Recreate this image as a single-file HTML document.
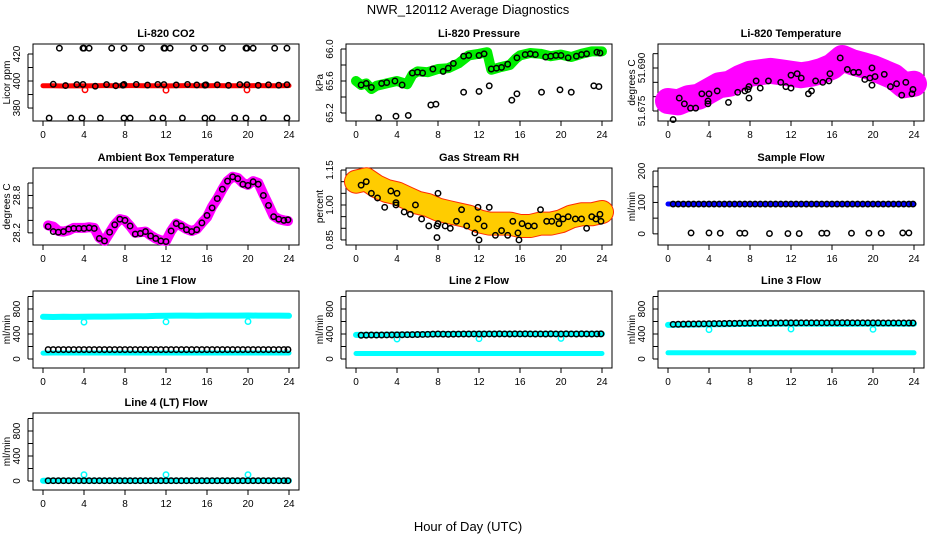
<!DOCTYPE html>
<html><head><meta charset="utf-8"><style>
html,body{margin:0;padding:0;background:#fff;}
svg{display:block;font-family:"Liberation Sans",Arial,sans-serif;}
</style></head><body>
<svg id="chart" width="936" height="540" viewBox="0 0 936 540" xmlns="http://www.w3.org/2000/svg">
<text x="468" y="14" text-anchor="middle" font-size="13">NWR_120112  Average Diagnostics</text>
<text x="468" y="531" text-anchor="middle" font-size="13">Hour of Day (UTC)</text>
</svg>
<script>
// ---------- DATA ----------
const halfHours = [0.5,1,1.5,2,2.5,3,3.5,4,4.5,5,5.5,6,6.5,7,7.5,8,8.5,9,9.5,10,10.5,11,11.5,12,12.5,13,13.5,14,14.5,15,15.5,16,16.5,17,17.5,18,18.5,19,19.5,20,20.5,21,21.5,22,22.5,23,23.5,23.9];
const bandHours = [0,1,2,3,4,5,6,7,8,9,10,11,12,13,14,15,16,17,18,19,20,21,22,23,24];

// CO2
const co2Band = [396.5,396.5,396.3,396.5,396.4,396.5,396.6,396.5,396.5,396.6,396.5,396.5,396.4,396.5,396.6,396.5,396.5,396.6,396.5,396.5,396.5,396.6,396.5,396.5,396.6];
const co2Hours = [1.0,2.2,3.3,3.9,5.1,6.2,7.1,7.8,7.9,9.1,10.2,11.2,11.8,13.0,14.1,15.0,15.8,15.9,17.0,18.1,19.2,19.9,21.0,22.0,23.0,23.8];
const co2Vals = [397.6,396.6,397.4,397.5,396.2,397.4,396.5,396.9,397.5,397.5,397.0,397.5,397.4,397.1,397.5,397.1,396.9,397.2,397.2,396.8,397.4,397.3,396.8,397.2,396.9,397.3];
const co2HighHours = [1.6,3.9,4.0,4.5,6.7,7.9,9.6,11.8,11.9,12.4,14.7,15.8,17.5,19.8,19.9,20.5,22.6,23.8];
const co2High = 424.3;
const co2LowHours = [0.6,2.7,3.8,5.6,7.9,8.5,10.7,11.7,13.6,15.8,16.5,18.7,19.8,21.5,23.8];
const co2Low = 372.6;
const co2RedOutHours = [4.1,12.0,19.9];
const co2RedOut = [393.5,393.2,393.4];

// Pressure
const presBandHours = [0,0.5,1,1.5,2,3,4,5,5.5,6,7,8,9,10,11,12,12.8,13.2,14,15,15.6,16,17,18,19,20,21,22,23,24];
const presBand = [65.60,65.55,65.57,65.50,65.54,65.57,65.60,65.56,65.68,65.72,65.71,65.75,65.76,65.82,65.92,65.94,65.96,65.74,65.77,65.80,65.88,65.92,65.95,65.94,65.91,65.93,65.90,65.94,65.97,65.97];
const presHours = [0.5,1,1.5,2.5,3,3.8,4.5,5.5,6,6.5,7.5,8.5,9,9.5,10.5,11,12,12.5,13.2,13.7,14.2,14.8,15.7,16.5,17,17.5,18.5,19,19.5,20,20.7,21.5,22,22.5,23.5,23.8];
const presVals = [65.55,65.57,65.52,65.57,65.58,65.60,65.55,65.70,65.71,65.70,65.75,65.72,65.76,65.82,65.91,65.92,65.92,65.94,65.75,65.76,65.77,65.81,65.89,65.93,65.94,65.93,65.90,65.91,65.92,65.92,65.89,65.91,65.93,65.94,65.96,65.95];
const presOutHours = [2.2,3.9,5.1,7.3,7.8,10.5,12.0,13.0,15.2,15.7,18.1,19.9,21.0,23.2,23.7];
const presOut = [65.14,65.16,65.17,65.30,65.31,65.46,65.47,65.54,65.36,65.44,65.46,65.49,65.46,65.54,65.53];

// Li-820 temperature
const ltBand = [51.6785,51.678,51.6795,51.680,51.682,51.684,51.6845,51.6865,51.688,51.6885,51.689,51.6885,51.688,51.6875,51.688,51.689,51.6905,51.6935,51.692,51.691,51.690,51.6885,51.687,51.684,51.6845];
const ltHours = [0.5,1.1,1.6,2.2,2.7,3.3,3.9,3.9,4.0,4.8,5.9,6.8,7.5,7.8,7.9,7.9,8.6,9.0,9.8,11.0,11.5,12.0,12.0,12.6,13.0,13.7,14.0,14.4,15.1,15.7,15.8,16.8,17.5,18.1,18.6,19.2,19.7,19.9,19.9,20.2,21.1,21.7,22.3,22.8,23.2,23.8,23.9];
const ltVals = [51.672,51.6795,51.6775,51.676,51.676,51.681,51.6775,51.6785,51.681,51.682,51.678,51.6815,51.682,51.6825,51.6795,51.6835,51.6855,51.683,51.6855,51.685,51.6835,51.683,51.6875,51.688,51.6865,51.681,51.682,51.6855,51.685,51.6855,51.688,51.6935,51.6895,51.6885,51.6885,51.686,51.6865,51.690,51.684,51.687,51.6878,51.6835,51.6845,51.6805,51.685,51.681,51.6825];

// Ambient box temperature
const ambBand = [28.32,28.30,28.23,28.22,28.24,28.28,28.28,28.28,28.29,28.28,28.12,28.07,28.20,28.33,28.42,28.40,28.31,28.20,28.21,28.22,28.16,28.11,28.08,28.07,28.23,28.35,28.31,28.26,28.23,28.26,28.36,28.45,28.62,28.75,28.90,29.03,29.10,29.08,29.00,28.97,29.03,29.00,28.82,28.65,28.47,28.42,28.40,28.39];
const ambVals = [28.30,28.22,28.21,28.22,28.26,28.27,28.27,28.27,28.28,28.27,28.11,28.07,28.21,28.33,28.42,28.40,28.31,28.18,28.19,28.22,28.15,28.11,28.07,28.06,28.23,28.35,28.31,28.25,28.22,28.25,28.36,28.48,28.60,28.75,28.90,29.03,29.10,29.07,28.98,28.96,29.02,28.98,28.80,28.64,28.46,28.42,28.40,28.41];

// Gas stream RH
const rhBand = [1.10,1.11,1.08,1.06,1.05,1.03,1.01,1.00,0.98,0.97,0.96,0.95,0.93,0.92,0.92,0.92,0.91,0.91,0.92,0.92,0.93,0.95,0.96,0.96,0.97];
const rhHours = [0.5,1.0,1.5,2.1,2.8,3.4,3.9,3.9,4.0,4.7,5.3,5.8,6.4,7.1,7.9,7.9,8.0,8.0,8.7,9.2,9.8,10.3,10.8,11.6,11.9,11.9,12.0,12.5,13.0,13.6,14.2,14.8,15.3,15.8,15.9,16.2,16.8,17.4,18.0,18.6,19.1,19.7,19.8,20.2,20.7,21.4,22.0,22.5,23.0,23.4,23.8,23.9];
const rhVals = [1.085,1.10,1.05,1.03,0.99,1.06,1.00,1.01,1.05,0.97,0.96,1.00,0.94,0.91,0.91,0.86,1.05,0.92,0.91,0.90,0.93,0.98,0.91,0.88,0.99,0.94,0.85,0.91,0.99,0.87,0.89,0.87,0.93,0.88,0.85,0.92,0.91,0.91,0.98,0.93,0.93,0.95,0.92,0.94,0.95,0.94,0.94,0.90,0.95,0.94,0.96,0.93];

// Sample flow
const sfBand = [95,95,95,95,95,95,95,95,95,95,95,95,95,95,95,95,95,95,95,95,95,95,95,95,95];
const sfVals = [95,95,95,95,95,95,95,95,95,95,95,95,95,95,95,95,95,95,95,95,95,95,95,95,95,95,95,95,95,95,95,95,95,95,95,95,95,95,95,95,95,95,95,95,95,95,95,95];
const sfZeroHours = [2.25,4.0,5.1,7.0,7.5,9.9,11.7,12.8,15.0,15.5,17.9,19.6,20.8,22.9,23.5];
const sfZero = [3,3,2,2,2,1,1,1,2,2,2,2,2,3,3];

// Line flows (cyan bands, black averages)
const l1Upper = [675,672,675,674,676,678,678,680,682,684,684,690,692,695,694,692,695,695,694,695,696,695,694,695,692];
const l1Lower = [95,96,96,96,96,96,96,96,96,96,96,96,96,96,96,96,96,96,96,96,96,96,96,96,96];
const l1Black = [150,150,150,150,150,150,150,150,150,150,150,150,150,150,150,150,150,150,150,150,150,150,150,150,150,150,150,150,150,150,150,150,150,150,150,150,150,150,150,150,150,150,150,150,150,150,150,150];
const l2Upper = [385,385,385,388,390,390,392,395,398,400,400,400,402,402,402,402,400,402,402,402,400,402,402,402,402];
const l2Lower = [88,88,88,88,88,88,88,88,88,88,88,88,88,88,88,88,88,88,88,88,88,88,88,88,88];
const l2Black = [380,382,384,383,384,385,386,387,388,389,390,392,393,395,398,400,398,396,398,399,400,400,401,400,400,401,400,402,401,400,402,401,402,401,400,401,400,402,401,400,402,401,400,402,401,400,401,402];
const l3Upper = [545,548,550,552,555,555,558,560,560,562,562,565,565,565,565,565,565,562,565,565,565,563,565,565,565];
const l3Lower = [100,100,100,100,100,100,100,100,100,100,100,100,100,100,100,100,100,100,100,100,100,100,100,100,100];
const l3Black = [555,556,558,560,561,562,563,565,566,567,568,570,570,572,573,574,575,575,576,576,577,577,578,578,578,579,579,579,579,579,579,580,580,580,580,579,579,579,578,578,578,577,577,577,577,576,576,576];
const l4Band = [5,5,5,5,5,5,5,5,5,5,5,5,5,5,5,5,5,5,5,5,5,5,5,5,5];
const l4Black = [5,5,5,5,5,5,5,5,5,5,5,5,5,5,5,5,5,5,5,5,5,5,5,5,5,5,5,5,5,5,5,5,5,5,5,5,5,5,5,5,5,5,5,5,5,5,5,5];
const dipHours = [4,12,20];
const l1Dip = [590,595,600];
const l2Dip = [320,325,330];
const l3Dip = [470,480,475];
const l4Dip = [100,100,100];

// ---------- DRAWING ----------
const NS = "http://www.w3.org/2000/svg";
const svg = document.getElementById('chart');
function mk(tag, attrs, parent){ const e=document.createElementNS(NS,tag); for(const k in attrs) e.setAttribute(k,attrs[k]); (parent||svg).appendChild(e); return e; }

function panel(name, left, top, ylim, ticks, labels, title, ylab){
  const W=266, H=77;
  const g = mk('g',{});
  
  
  const x = h => left + (h + 0.975) / 25.95 * W;
  const y = v => top + H - (v - ylim[0]) / (ylim[1]-ylim[0]) * H;
  const t = mk('text',{x:left+W/2, y:top-7, 'text-anchor':'middle','font-size':11,'font-weight':'bold'},g);
  t.textContent = title;
  
  
  const bx = mk('rect',{x:left,y:top,width:W,height:H,fill:'none',stroke:'#000','stroke-width':1},g);
  
  
  const xa = mk('g',{},g);
  
  
  for(let h=0; h<=24; h+=4){
    mk('line',{x1:x(h),x2:x(h),y1:top+H,y2:top+H+5,stroke:'#000'},xa);
    const tl = mk('text',{x:x(h),y:top+H+17,'text-anchor':'middle','font-size':10},xa);
    tl.textContent = h;
  }
  const ya = mk('g',{},g);
  
  
  mk('line',{x1:left-5,x2:left-5,y1:y(ticks[0]),y2:y(ticks[ticks.length-1]),stroke:'#000'},ya);
  ticks.forEach(v=>mk('line',{x1:left-5,x2:left,y1:y(v),y2:y(v),stroke:'#000'},ya));
  labels.forEach(l=>{
    const tl = mk('text',{x:0,y:0,'text-anchor':'middle','font-size':10,transform:`translate(${left-13},${y(l[0])}) rotate(-90)`},ya);
    tl.textContent = l[1];
  });
  const yt = mk('text',{x:0,y:0,'text-anchor':'middle','font-size':10,transform:`translate(${left-23},${top+H/2}) rotate(-90)`},g);
  yt.textContent = ylab;
  
  
  const plot = mk('g',{},g);
  
  
  return {x,y,g:plot};
}
function band(p, hours, vals, color, width, name){
  const pts = hours.map((h,i)=>p.x(h).toFixed(1)+','+p.y(vals[i]).toFixed(1)).join(' ');
  const e = mk('polyline',{points:pts,fill:'none',stroke:color,'stroke-width':width,'stroke-linejoin':'round','stroke-linecap':'round'},p.g);
  
  
}
function pts(p, hours, vals, color, name, r){
  const grp = mk('g',{},p.g);
  
  
  hours.forEach((h,i)=>{
    const v = Array.isArray(vals) ? vals[i] : vals;
    mk('circle',{cx:p.x(h),cy:p.y(v),r:r||2.7,fill:'none',stroke:color,'stroke-width':1.5},grp);
  });
}

// Row 1
let p = panel('co2-panel',33,44,[370.4,427.4],[380,390,400,410,420],[[380,'380'],[400,'400'],[420,'420']],'Li-820 CO2','Licor ppm');
band(p,bandHours,co2Band,'#ff0000',5,'co2-band');
pts(p,co2RedOutHours,co2RedOut,'#ff0000','co2-red-outliers');
pts(p,co2Hours,co2Vals,'#000','co2-averages');
pts(p,co2HighHours,co2High,'#000','co2-high-outliers');
pts(p,co2LowHours,co2Low,'#000','co2-low-outliers');

p = panel('pressure-panel',346,44,[65.1,66.0625],[65.2,65.4,65.6,65.8,66.0],[[65.2,'65.2'],[65.6,'65.6'],[66.0,'66.0']],'Li-820 Pressure','kPa');
band(p,presBandHours,presBand,'#00ee00',10,'pressure-band');
pts(p,presHours,presVals,'#000','pressure-averages');
pts(p,presOutHours,presOut,'#000','pressure-outliers');

p = panel('li820-temp-panel',658,44,[51.67151,51.69837],[51.675,51.680,51.685,51.690,51.695],[[51.675,'51.675'],[51.690,'51.690']],'Li-820 Temperature','degrees C');
band(p,bandHours,ltBand,'#ff00ff',26,'li820-temp-band');
pts(p,ltHours,ltVals,'#000','li820-temp-averages');

// Row 2
p = panel('ambient-temp-panel',33,168,[28.005,29.2407],[28.2,28.4,28.6,28.8,29.0],[[28.2,'28.2'],[28.8,'28.8']],'Ambient Box Temperature','degrees C');
band(p,halfHours,ambBand,'#ff00ff',10,'ambient-temp-band');
pts(p,halfHours,ambVals,'#000','ambient-temp-averages');

p = panel('rh-panel',346,168,[0.8283,1.1587],[0.85,0.90,0.95,1.00,1.05,1.10,1.15],[[0.85,'0.85'],[1.00,'1.00'],[1.15,'1.15']],'Gas Stream RH','percent');
band(p,bandHours,rhBand,'#ff2a00',24,'rh-band-edge');
band(p,bandHours,rhBand,'#ffcc00',22,'rh-band');
pts(p,rhHours,rhVals,'#000','rh-averages');

p = panel('sample-flow-panel',658,168,[-35.5,209.7],[0,50,100,150,200],[[0,'0'],[100,'100'],[200,'200']],'Sample Flow','ml/min');
band(p,bandHours,sfBand,'#0000ff',5,'sample-flow-band');
pts(p,halfHours,sfVals,'#000','sample-flow-averages');
pts(p,sfZeroHours,sfZero,'#000','sample-flow-zero-points');

// Row 3 & 4 flows
const fT=[0,200,400,600,800,1000], fL=[[0,'0'],[400,'400'],[800,'800']], fY=[-144,1088];
p = panel('line1-flow-panel',33,291,fY,fT,fL,'Line 1 Flow','ml/min');
band(p,bandHours,l1Upper,'#00ffff',6,'line1-upper-band');
band(p,bandHours,l1Lower,'#00ffff',5,'line1-lower-band');
pts(p,dipHours,l1Dip,'#00ffff','line1-dips');
pts(p,halfHours,l1Black,'#000','line1-averages');

p = panel('line2-flow-panel',346,291,fY,fT,fL,'Line 2 Flow','ml/min');
band(p,bandHours,l2Upper,'#00ffff',6,'line2-upper-band');
band(p,bandHours,l2Lower,'#00ffff',5,'line2-lower-band');
pts(p,dipHours,l2Dip,'#00ffff','line2-dips');
pts(p,halfHours,l2Black,'#000','line2-averages');

p = panel('line3-flow-panel',658,291,fY,fT,fL,'Line 3 Flow','ml/min');
band(p,bandHours,l3Upper,'#00ffff',6,'line3-upper-band');
band(p,bandHours,l3Lower,'#00ffff',5,'line3-lower-band');
pts(p,dipHours,l3Dip,'#00ffff','line3-dips');
pts(p,halfHours,l3Black,'#000','line3-averages');

p = panel('line4-flow-panel',33,413,fY,fT,fL,'Line 4 (LT) Flow','ml/min');
band(p,bandHours,l4Band,'#00ffff',6,'line4-band');
pts(p,dipHours,l4Dip,'#00ffff','line4-spikes');
pts(p,halfHours,l4Black,'#000','line4-averages');
</script>
</body></html>
